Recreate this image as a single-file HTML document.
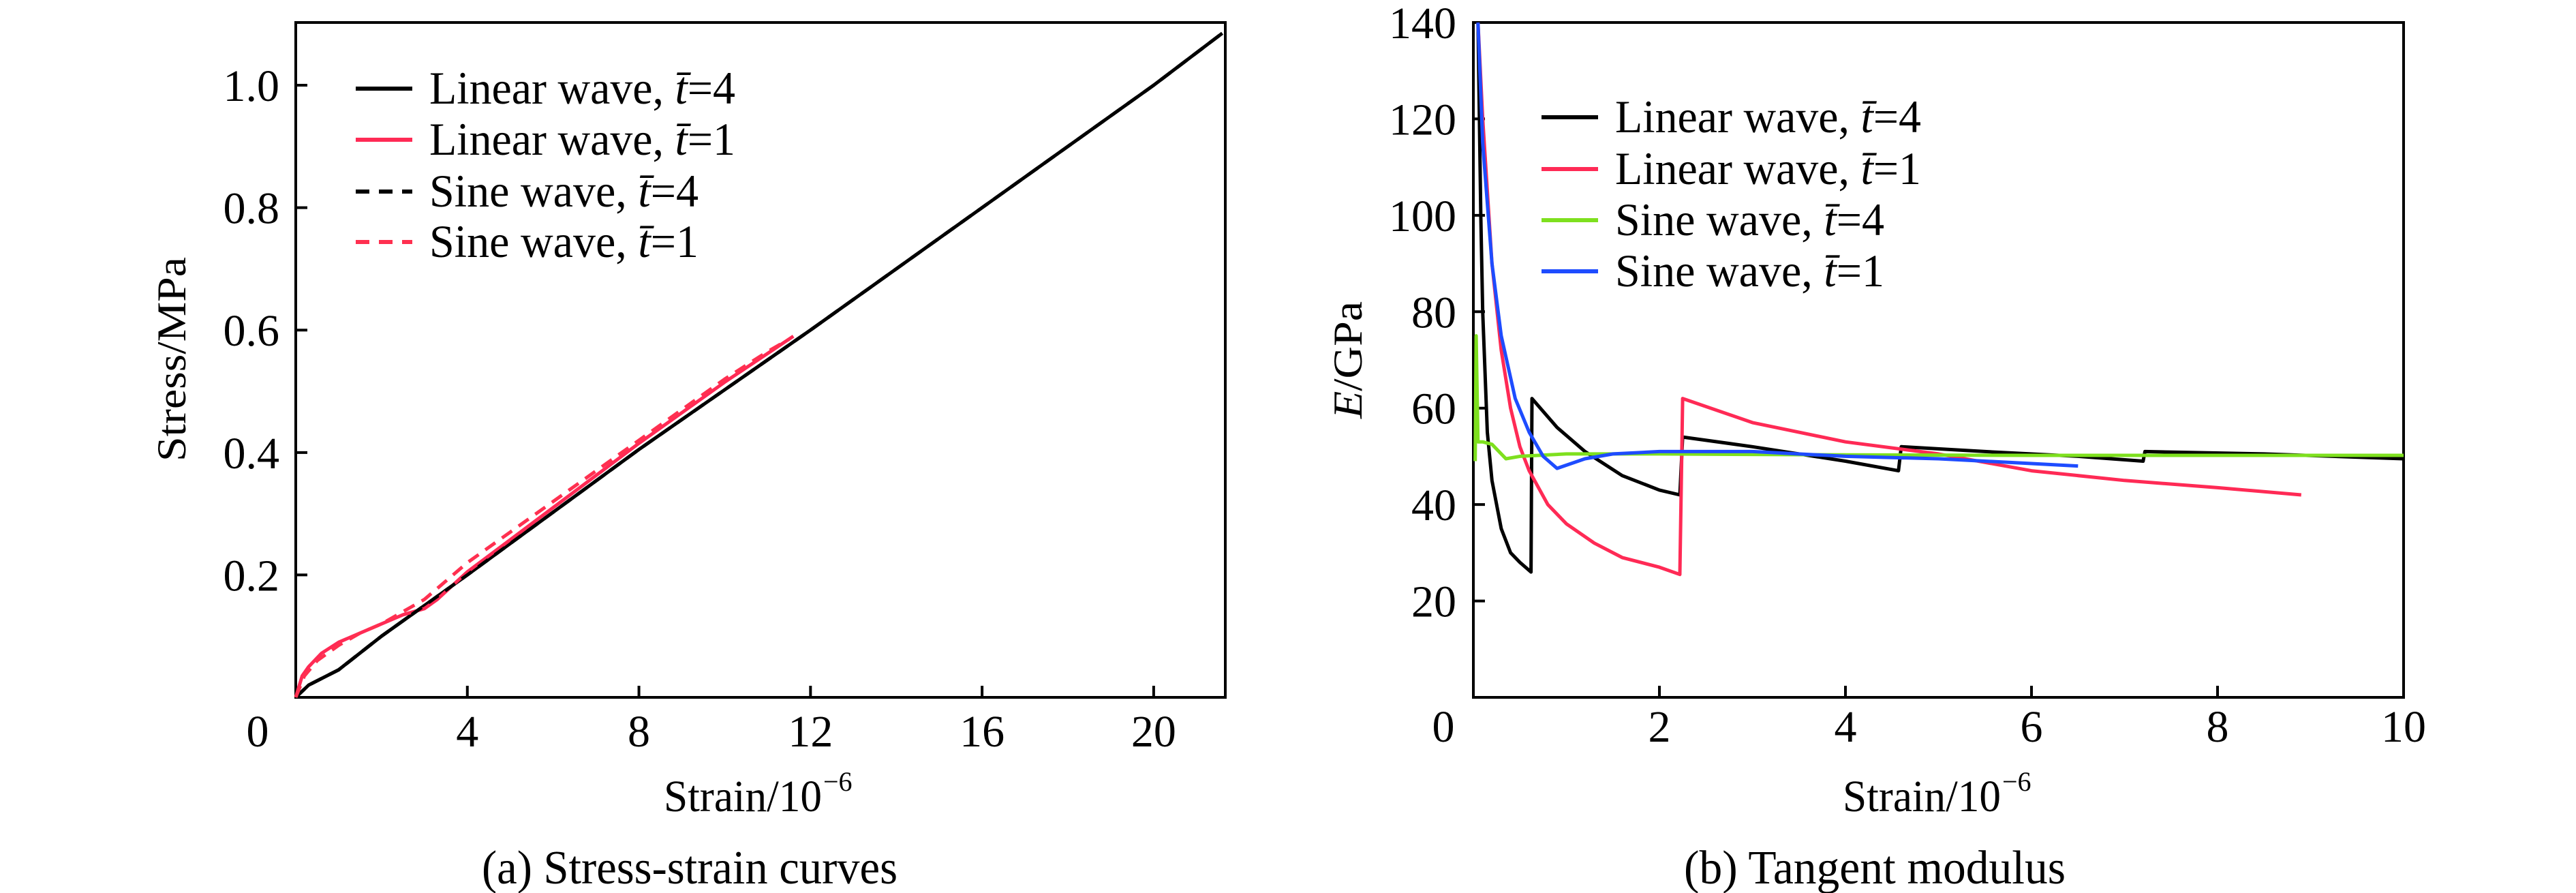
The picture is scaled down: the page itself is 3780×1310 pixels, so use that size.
<!DOCTYPE html>
<html><head><meta charset="utf-8"><style>
html,body{margin:0;padding:0;background:#fff}
svg{display:block}
text{font-family:"Liberation Serif",serif;fill:#000}
</style></head><body>
<svg id="fig" width="3780" height="1310" viewBox="0 0 3780 1310" xmlns="http://www.w3.org/2000/svg">
<g id="pa"></g>
<g id="pb"></g>
<text x="1012" y="1296" font-size="70" text-anchor="middle" textLength="610" lengthAdjust="spacingAndGlyphs">(a) Stress-strain curves</text>
<text x="2751" y="1296" font-size="70" text-anchor="middle" textLength="560" lengthAdjust="spacingAndGlyphs">(b) Tangent modulus</text>
<text x="974" y="1190" font-size="66" textLength="232" lengthAdjust="spacingAndGlyphs">Strain/10</text>
<text x="1208" y="1160" font-size="40">−6</text>
<text x="2704" y="1190" font-size="66" textLength="232" lengthAdjust="spacingAndGlyphs">Strain/10</text>
<text x="2938" y="1160" font-size="40">−6</text>
<text transform="translate(272,527) rotate(-90)" font-size="60" text-anchor="middle" textLength="300" lengthAdjust="spacingAndGlyphs">Stress/MPa</text>
<text transform="translate(1998,528) rotate(-90)" font-size="60" text-anchor="middle" textLength="172" lengthAdjust="spacingAndGlyphs"><tspan font-style="italic">E</tspan>/GPa</text>
</svg>
<script>
// ---- Panel (a) data ----
const aXTicks = [0, 4, 8, 12, 16, 20];
const aYTicks = [0.2, 0.4, 0.6, 0.8, 1.0];
const aYTickLabels = ["0.2", "0.4", "0.6", "0.8", "1.0"];
const aLin4X = [0, 0.3, 1, 2, 3, 4, 8, 12, 16, 20, 21.6];
const aLin4Y = [0, 0.02, 0.045, 0.1, 0.15, 0.2, 0.405, 0.6, 0.8, 1.0, 1.085];
const aLin1X = [0, 0.15, 0.3, 0.6, 1, 1.5, 2, 2.5, 3, 3.3, 4, 6, 8, 10, 11.6];
const aLin1Y = [0, 0.035, 0.05, 0.072, 0.09, 0.105, 0.12, 0.135, 0.145, 0.16, 0.205, 0.31, 0.415, 0.515, 0.59];
const aSin4X = [0, 0.3, 1, 2, 3, 4, 8, 12, 16, 20, 21.6];
const aSin4Y = [0, 0.02, 0.045, 0.1, 0.15, 0.2, 0.405, 0.6, 0.8, 1.0, 1.085];
const aSin1X = [0, 0.2, 0.5, 1, 1.5, 2, 2.5, 3, 3.5, 4, 5, 6, 7, 8, 9, 10, 11, 11.5];
const aSin1Y = [0, 0.035, 0.06, 0.085, 0.105, 0.12, 0.14, 0.16, 0.19, 0.22, 0.27, 0.32, 0.37, 0.42, 0.47, 0.52, 0.565, 0.585];
// ---- Panel (b) data ----
const bXTicks = [0, 2, 4, 6, 8, 10];
const bYTicks = [20, 40, 60, 80, 100, 120, 140];
const bLin4X = [0.05, 0.08, 0.1, 0.15, 0.2, 0.3, 0.4, 0.5, 0.62, 0.63, 0.9, 1.2, 1.6, 2.0, 2.22, 2.25, 3, 4, 4.57, 4.6, 5.5, 6.5, 7.2, 7.22, 8.5, 10];
const bLin4Y = [140, 100, 80, 55, 45, 35, 30, 28, 26, 62, 56, 51, 46, 43, 42, 54, 52, 49, 47, 52, 51, 50, 49, 51, 50.5, 49.5];
const bLin1X = [0.05, 0.1, 0.2, 0.3, 0.4, 0.5, 0.6, 0.8, 1.0, 1.3, 1.6, 2.0, 2.22, 2.25, 3, 4, 5, 6, 7, 8, 8.9];
const bLin1Y = [140, 120, 90, 72, 60, 52, 47, 40, 36, 32, 29, 27, 25.5, 62, 57, 53, 50.5, 47, 45, 43.5, 42];
const bSin4X = [0.02, 0.03, 0.05, 0.1, 0.2, 0.35, 0.5, 1, 2, 4, 6, 8, 10];
const bSin4Y = [49, 75, 53, 53, 52.5, 49.5, 50, 50.5, 50.5, 50.3, 50.2, 50.2, 50.2];
const bSin1X = [0.05, 0.1, 0.2, 0.3, 0.45, 0.6, 0.75, 0.9, 1.2, 1.5, 2, 3, 4, 5, 6, 6.5];
const bSin1Y = [140, 115, 90, 75, 62, 55, 50, 47.5, 49.5, 50.5, 51, 51, 50, 49.5, 48.5, 48];
const legendLabels = [["Linear wave, ", "4"], ["Linear wave, ", "1"], ["Sine wave, ", "4"], ["Sine wave, ", "1"]];

const NS = "http://www.w3.org/2000/svg";
function mk(parent, tag, attrs) {
  const e = document.createElementNS(NS, tag);
  for (const k in attrs) e.setAttribute(k, attrs[k]);
  parent.appendChild(e);
  return e;
}
function buildPanel(g, o) {
  const sx = v => o.x0 + (v - o.xmin) / (o.xmax - o.xmin) * (o.x1 - o.x0);
  const sy = v => o.y1 - (v - o.ymin) / (o.ymax - o.ymin) * (o.y1 - o.y0);
  const frame = mk(g, "rect", {x: o.x0, y: o.y0, width: o.x1 - o.x0, height: o.y1 - o.y0, fill: "none", stroke: "#000", "stroke-width": 4});
  
  
  o.xt.forEach((v, i) => {
    const t = mk(g, "line", {x1: sx(v), x2: sx(v), y1: o.y1, y2: o.y1 - 17, stroke: "#000", "stroke-width": 4});
    
    
    const lx = v === 0 ? sx(v) - o.zeroOff : sx(v);
    const l = mk(g, "text", {x: lx, y: o.xly, "font-size": 66, "text-anchor": "middle"});
    l.textContent = String(v);
    
    
  });
  o.yt.forEach((v, i) => {
    const t = mk(g, "line", {x1: o.x0, x2: o.x0 + 17, y1: sy(v), y2: sy(v), stroke: "#000", "stroke-width": 4});
    
    
    const l = mk(g, "text", {x: o.ylx, y: sy(v) + 23, "font-size": 66, "text-anchor": "end"});
    l.textContent = o.ytl ? o.ytl[i] : String(v);
    
    
  });
  o.series.forEach(s => {
    const d = s.x.map((v, i) => (i ? "L" : "M") + sx(v).toFixed(1) + "," + sy(s.y[i]).toFixed(1)).join("");
    const p = mk(g, "path", {d: d, fill: "none", stroke: s.c, "stroke-width": 5, "stroke-linejoin": "round"});
    if (s.dash) p.setAttribute("stroke-dasharray", s.dash);
    
    
  });
  o.series.forEach((s, i) => {
    const ly = o.legY[i];
    const ln = mk(g, "line", {x1: o.legX, x2: o.legX + 83, y1: ly, y2: ly, stroke: s.c, "stroke-width": 6});
    if (s.dash) ln.setAttribute("stroke-dasharray", "20,14");
    
    
    const t = mk(g, "text", {x: o.legX + 108, y: ly + 22, "font-size": 68});
    
    
    const a = document.createElementNS(NS, "tspan"); a.textContent = legendLabels[i][0]; t.appendChild(a);
    const b = document.createElementNS(NS, "tspan"); b.setAttribute("font-style", "italic"); b.textContent = "t\u0304"; t.appendChild(b);
    const c = document.createElementNS(NS, "tspan"); c.textContent = "=" + legendLabels[i][1]; t.appendChild(c);
    t.setAttribute("textLength", i < 2 ? 449 : 395);
    t.setAttribute("lengthAdjust", "spacingAndGlyphs");
  });
}
buildPanel(document.getElementById("pa"), {
  x0: 434, x1: 1798, y0: 33, y1: 1023, xmin: 0, xmax: 21.67, ymin: 0, ymax: 1.1025,
  xt: aXTicks, yt: aYTicks, ytl: aYTickLabels, xly: 1095, ylx: 410, zeroOff: 56,
  legX: 522, legY: [130, 205, 281, 355],
  series: [
    {x: aLin4X, y: aLin4Y, c: "#000", name: "linear-wave-t4-line"},
    {x: aLin1X, y: aLin1Y, c: "#ff2a55", name: "linear-wave-t1-line"},
    {x: aSin4X, y: aSin4Y, c: "#000", dash: "18,12", name: "sine-wave-t4-line"},
    {x: aSin1X, y: aSin1Y, c: "#ff3050", dash: "18,12", name: "sine-wave-t1-line"}
  ]
});
buildPanel(document.getElementById("pb"), {
  x0: 2162, x1: 3527, y0: 33, y1: 1023, xmin: 0, xmax: 10, ymin: 0, ymax: 140,
  xt: bXTicks, yt: bYTicks, xly: 1088, ylx: 2137, zeroOff: 44,
  legX: 2262, legY: [172, 248, 323, 398],
  series: [
    {x: bLin4X, y: bLin4Y, c: "#000", name: "linear-wave-t4-line"},
    {x: bLin1X, y: bLin1Y, c: "#ff2a55", name: "linear-wave-t1-line"},
    {x: bSin4X, y: bSin4Y, c: "#7ee01e", name: "sine-wave-t4-line"},
    {x: bSin1X, y: bSin1Y, c: "#1e4cff", name: "sine-wave-t1-line"}
  ]
});
</script>
</body></html>
